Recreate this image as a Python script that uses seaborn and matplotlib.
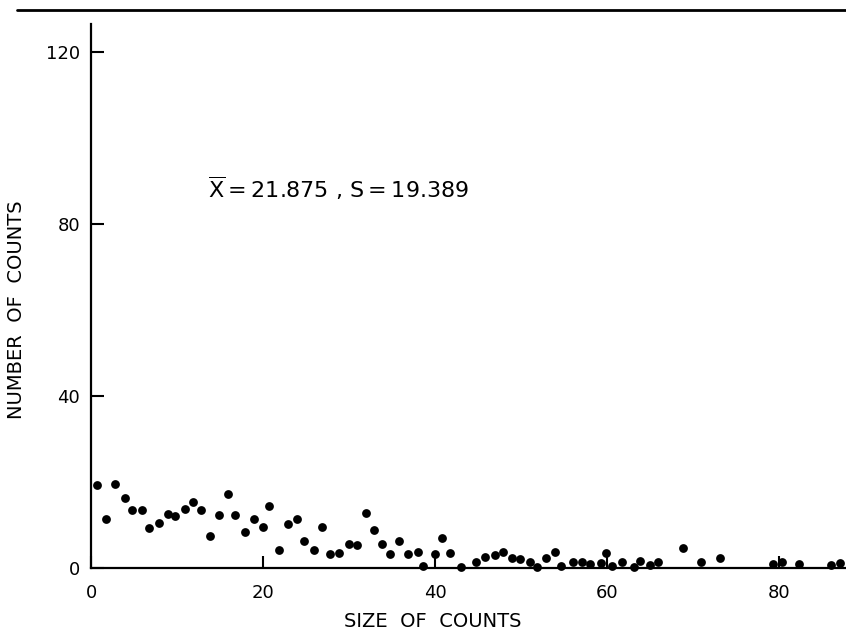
import matplotlib
matplotlib.use("Agg")
import matplotlib.pyplot as plt
import seaborn as sns
import pandas as pd
from matplotlib.lines import Line2D

# ---- data ----
size_of_counts = [0.7, 1.8, 2.8, 3.9, 4.8, 5.9, 6.8, 7.9, 8.9, 9.8, 10.9, 11.9, 12.8, 13.8,
                  14.9, 15.9, 16.8, 17.9, 18.9, 20.0, 20.7, 21.9, 22.9, 23.9, 24.8, 25.9,
                  26.9, 27.8, 28.8, 30.0, 30.9, 32.0, 32.9, 33.8, 34.8, 35.8, 36.9, 38.0,
                  38.6, 40.0, 40.8, 41.7, 43.0, 44.8, 45.8, 47.0, 47.9, 48.9, 49.9, 51.0,
                  51.9, 52.9, 53.9, 54.7, 56.1, 57.1, 58.0, 59.3, 59.9, 60.6, 61.8, 63.1,
                  63.8, 65.0, 65.9, 68.8, 70.9, 73.1, 79.3, 80.3, 82.3, 86.1, 87.1]
number_of_counts = [19.4, 11.5, 19.6, 16.4, 13.5, 13.6, 9.4, 10.6, 12.6, 12.2, 13.7, 15.5,
                    13.6, 7.5, 12.4, 17.3, 12.3, 8.4, 11.5, 9.5, 14.6, 4.2, 10.3, 11.4, 6.3,
                    4.2, 9.7, 3.3, 3.6, 5.7, 5.4, 12.8, 8.8, 5.7, 3.3, 6.4, 3.3, 3.8, 0.6,
                    3.3, 7.0, 3.6, 0.4, 1.5, 2.6, 3.2, 3.9, 2.4, 2.2, 1.5, 0.3, 2.3, 3.7,
                    0.6, 1.5, 1.5, 1.0, 1.3, 3.5, 0.6, 1.5, 0.2, 1.7, 0.8, 1.5, 4.7, 1.5,
                    2.5, 0.9, 1.5, 0.9, 0.8, 1.3]
x_ticks = [0, 20, 40, 60, 80]
y_ticks = [0, 40, 80, 120]
x_label = "SIZE  OF  COUNTS"
y_label = "NUMBER  OF  COUNTS"
annotation = "$\\overline{\\mathrm{X}}$\u2009=\u200921.875 , S\u2009=\u200919.389"

df = pd.DataFrame({"size": size_of_counts, "count": number_of_counts})

sns.set_style("ticks")
plt.rcParams["font.family"] = ["DejaVu Sans"]
plt.rcParams["mathtext.fontset"] = "dejavusans"
for key in ["text.color", "axes.labelcolor", "xtick.color", "ytick.color",
            "axes.edgecolor"]:
    plt.rcParams[key] = "black"

fig = plt.figure(figsize=(8.46, 6.31), dpi=100)
ax = fig.add_axes([91 / 846, 62.7 / 631, 1 - 91 / 846, (568.3 - 24) / 631])

sns.scatterplot(data=df, x="size", y="count", ax=ax, color="black", s=40,
                edgecolor="black", linewidth=0, clip_on=False, zorder=3, legend=False)

ax.set_xlim(0, (846 - 91) / 8.6)
ax.set_ylim(0, (568.3 - 24) / 4.3)
ax.set_xticks(x_ticks)
ax.set_yticks(y_ticks)
ax.tick_params(axis="both", direction="in", length=9, width=1.5, labelsize=13,
               colors="black")
ax.tick_params(axis="x", pad=11)
ax.tick_params(axis="y", pad=8)

for side in ["top", "right"]:
    ax.spines[side].set_visible(False)
for side in ["left", "bottom"]:
    ax.spines[side].set_linewidth(1.6)
    ax.spines[side].set_color("black")

ax.set_xlabel(x_label, fontsize=14)
ax.set_ylabel(y_label, fontsize=14)
ax.xaxis.set_label_coords((433 - 91) / 755, (568.3 - 612) / 544.3)
ax.yaxis.set_label_coords((26 - 91) / 755, (568.3 - 310) / 544.3)

ax.text(13.6, 88.4, annotation, fontsize=16, va="center", ha="left")

# horizontal rule at top of page
fig.add_artist(Line2D([17 / 846, 1.0], [1 - 10 / 631, 1 - 10 / 631],
                      color="black", linewidth=2, transform=fig.transFigure))

fig.savefig("out.png", dpi=100, facecolor="white")
